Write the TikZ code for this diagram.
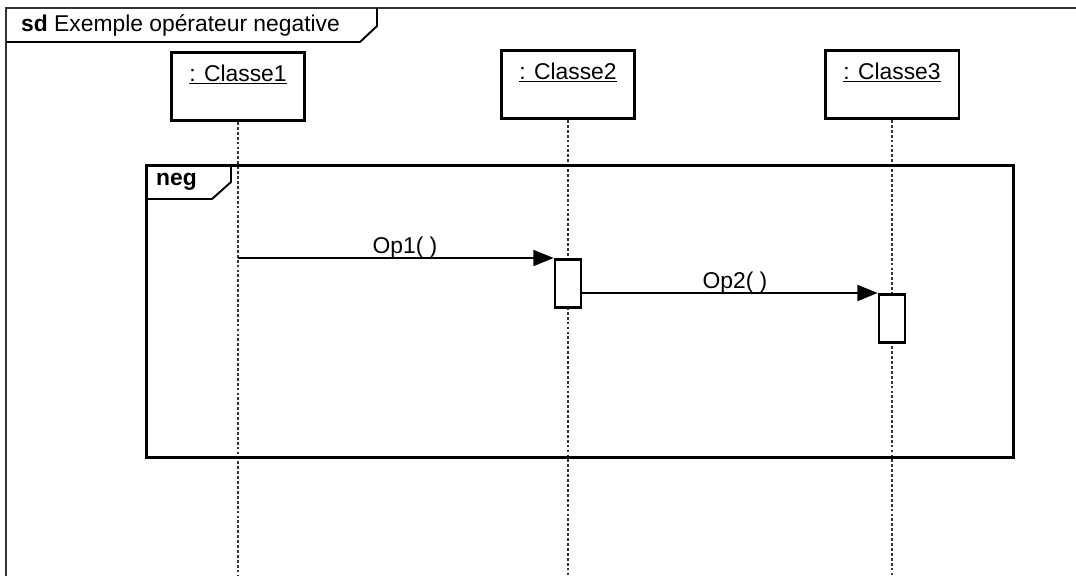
\documentclass[tikz,border=0pt]{standalone}
\usepackage{fontspec}
\setmainfont{Liberation Sans}
\usetikzlibrary{arrows.meta}

\begin{document}
\begin{tikzpicture}[x=0.02cm,y=-0.02cm,font=\fontsize{13}{15}\selectfont]
\useasboundingbox (0,0) rectangle (1076,576);

% outer frame and its title tab
\draw[line width=1.3pt,black!80] (1076,8) -- (6,8) -- (6,576);
\draw[line width=1.1pt] (6,42) -- (360,42) -- (377,26) -- (377,8);
\node[anchor=base west] (title) at (15,31) {\textbf{sd} Exemple opérateur negative};

\begin{scope}[every node/.style={draw,line width=1.7pt,minimum width=2.68cm,minimum height=1.36cm,anchor=north}]
    \node (C1) at (238,51) {};
    \node (C2) at (568,49) {};
    \node (C3) at (892,49) {};
\end{scope}
\node[anchor=base] (C1t) at (238,81) {\underline{: Classe1}};
\node[anchor=base] (C2t) at (568,79) {\underline{: Classe2}};
\node[anchor=base] (C3t) at (892,79) {\underline{: Classe3}};

% lifelines
\coordinate (E1) at (238,576);
\coordinate (E2) at (568,576);
\coordinate (E3) at (892,576);
\begin{scope}[every path/.style={draw,line width=1.4pt,dash pattern=on 1.6pt off 1.2pt,black!80}]
    \path (C1.south) -- (E1);
    \path (C2.south) -- (E2);
    \path (C3.south) -- (E3);
\end{scope}

% neg fragment
\node[draw,line width=1.6pt,anchor=north west,minimum width=17.34cm,minimum height=5.84cm] (N) at (145,164) {};
\draw[line width=1.1pt] (N.north west |- 0,199) -- (212,199) -- (231,182) -- (231,164);
\node[anchor=base west,font=\fontsize{13}{15}\selectfont\bfseries] (Nt) at (150,185) {neg};

% activations
\begin{scope}[every node/.style={draw,fill=white,line width=1.5pt,minimum width=0.52cm,minimum height=0.96cm,anchor=north}]
    \node (A2) at (568,258) {};
    \node (A3) at (892,293) {};
\end{scope}
\coordinate (S1) at (C1.south |- A2.north);

\begin{scope}[>={Triangle[length=11.5pt,width=9pt]},
              every path/.style={draw=black,line width=1.2pt}]
    \path [->] (S1) -- (A2.north west);
    \path [->] (A2.east |- A3.north) -- (A3.north west);
\end{scope}
\node[anchor=base] (M1) at (405,253) {Op1( )};
\node[anchor=base] (M2) at (735,288) {Op2( )};
\end{tikzpicture}
\end{document}
